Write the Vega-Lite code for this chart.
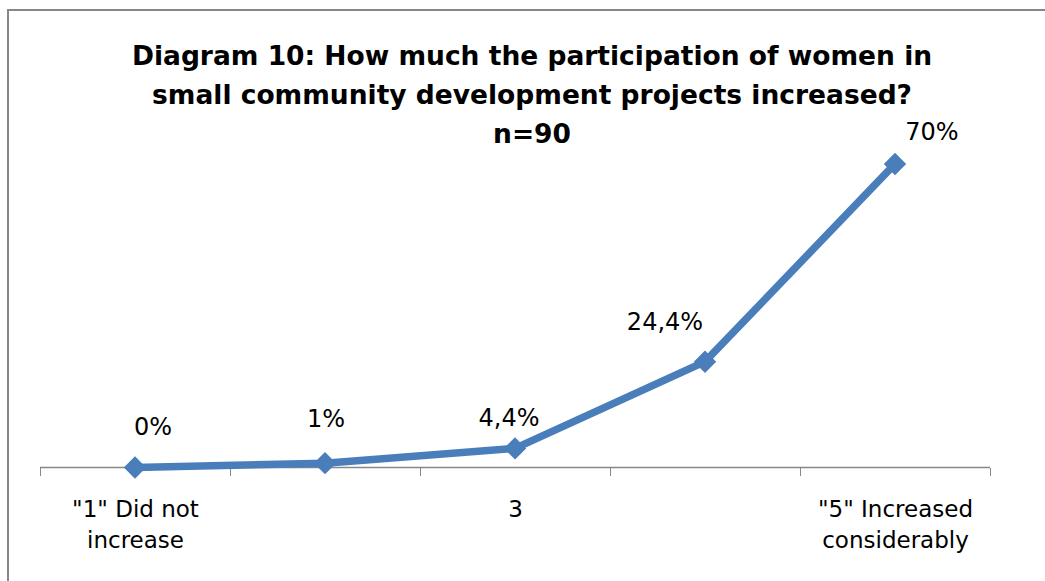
{
  "$schema": "https://vega.github.io/schema/vega-lite/v6.json",
  "width": 1042,
  "height": 576,
  "autosize": "none",
  "padding": {"left": 8, "top": 10, "right": -5, "bottom": -5},
  "background": "white",
  "config": {"view": {"stroke": "#878787", "strokeWidth": 2}},
  "title": {
    "text": ["Diagram 10: How much the participation of women in", "small community development projects increased?", "n=90"],
    "font": "DejaVu Sans",
    "fontSize": 26.5,
    "fontWeight": "bold",
    "color": "black",
    "lineHeight": 39,
    "anchor": "middle",
    "offset": -138,
    "dx": 3
  },
  "data": {
    "values": [
      {"level": 1, "pct": 0, "label": "0%"},
      {"level": 2, "pct": 1, "label": "1%"},
      {"level": 3, "pct": 4.4, "label": "4,4%"},
      {"level": 4, "pct": 24.4, "label": "24,4%"},
      {"level": 5, "pct": 70, "label": "70%"}
    ]
  },
  "layer": [
    {
      "data": {"values": [{}]},
      "mark": {"type": "rule", "color": "#878787", "strokeWidth": 1.5},
      "encoding": {
        "x": {"datum": 0.5, "type": "quantitative"},
        "x2": {"datum": 5.5},
        "y": {"datum": 0, "type": "quantitative", "axis": null}
      }
    },
    {
      "mark": {"type": "line", "color": "#4A7EBB", "strokeWidth": 7.5, "interpolate": "linear"},
      "encoding": {
        "x": {
          "field": "level",
          "type": "quantitative",
          "scale": {"domain": [0.33158, 5.81579], "nice": false, "zero": false},
          "axis": {
            "title": null,
            "orient": "bottom",
            "offset": -118.5,
            "domain": false,
            "grid": false,
            "values": [0.5, 1, 1.5, 2, 2.5, 3, 3.5, 4, 4.5, 5, 5.5],
            "tickSize": 8,
            "tickColor": "#878787",
            "tickWidth": 1,
            "tickOpacity": {"condition": {"test": "datum.value % 1 == 0", "value": 0}, "value": 1},
            "labelExpr": "datum.value == 1 ? ['\"1\" Did not', 'increase'] : datum.value == 3 ? '3' : datum.value == 5 ? ['\"5\" Increased', 'considerably'] : ''",
            "labelFont": "DejaVu Sans",
            "labelFontSize": 23,
            "labelColor": "black",
            "labelPadding": 23,
            "labelLineHeight": 31,
            "labelOverlap": false,
            "labelFlush": false,
            "labelBound": false,
            "labelAngle": 0
          }
        },
        "y": {
          "field": "pct",
          "type": "quantitative",
          "scale": {"domain": [-27.33, 105.51], "nice": false, "zero": false},
          "axis": null
        }
      }
    },
    {
      "mark": {"type": "point", "shape": "diamond", "filled": true, "size": 500, "color": "#4A7EBB", "opacity": 1},
      "encoding": {
        "x": {"field": "level", "type": "quantitative"},
        "y": {"field": "pct", "type": "quantitative"}
      }
    },
    {
      "transform": [{"filter": "datum.level == 1"}],
      "mark": {"type": "text", "dx": 18, "dy": -39, "font": "DejaVu Sans", "fontSize": 24, "color": "black", "baseline": "middle", "align": "center"},
      "encoding": {"x": {"field": "level", "type": "quantitative"}, "y": {"field": "pct", "type": "quantitative"}, "text": {"field": "label"}}
    },
    {
      "transform": [{"filter": "datum.level == 2"}],
      "mark": {"type": "text", "dx": 1, "dy": -43, "font": "DejaVu Sans", "fontSize": 24, "color": "black", "baseline": "middle", "align": "center"},
      "encoding": {"x": {"field": "level", "type": "quantitative"}, "y": {"field": "pct", "type": "quantitative"}, "text": {"field": "label"}}
    },
    {
      "transform": [{"filter": "datum.level == 3"}],
      "mark": {"type": "text", "dx": -6, "dy": -29, "font": "DejaVu Sans", "fontSize": 24, "color": "black", "baseline": "middle", "align": "center"},
      "encoding": {"x": {"field": "level", "type": "quantitative"}, "y": {"field": "pct", "type": "quantitative"}, "text": {"field": "label"}}
    },
    {
      "transform": [{"filter": "datum.level == 4"}],
      "mark": {"type": "text", "dx": -40, "dy": -39, "font": "DejaVu Sans", "fontSize": 24, "color": "black", "baseline": "middle", "align": "center"},
      "encoding": {"x": {"field": "level", "type": "quantitative"}, "y": {"field": "pct", "type": "quantitative"}, "text": {"field": "label"}}
    },
    {
      "transform": [{"filter": "datum.level == 5"}],
      "mark": {"type": "text", "dx": 37, "dy": -31, "font": "DejaVu Sans", "fontSize": 24, "color": "black", "baseline": "middle", "align": "center"},
      "encoding": {"x": {"field": "level", "type": "quantitative"}, "y": {"field": "pct", "type": "quantitative"}, "text": {"field": "label"}}
    }
  ]
}
